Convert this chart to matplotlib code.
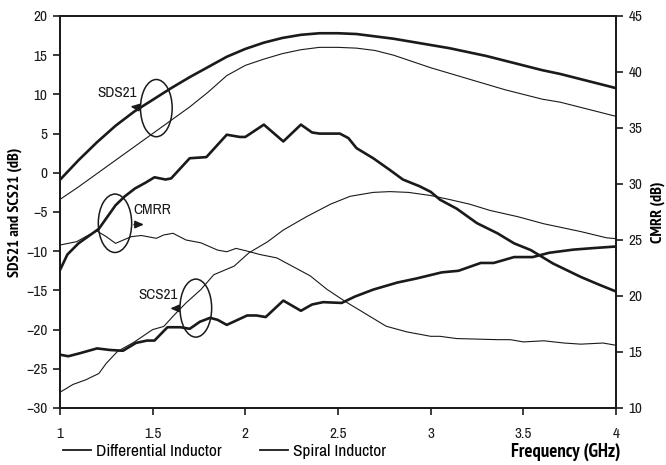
import numpy as np
import matplotlib.pyplot as plt
from matplotlib import font_manager
from matplotlib.font_manager import FontProperties
from matplotlib.patches import Ellipse

# prefer a narrow face for the labels if one is installed
narrow = None
narrow_bold = None
for fe in font_manager.fontManager.ttflist:
    if 'Narrow' in fe.name and fe.style == 'normal':
        w = fe.weight if isinstance(fe.weight, int) else (700 if 'bold' in str(fe.weight) else 400)
        if w >= 600 and narrow_bold is None:
            narrow_bold = fe.fname
        elif w < 600 and narrow is None:
            narrow = fe.name
if narrow:
    plt.rcParams['font.family'] = [narrow, 'DejaVu Sans']
else:
    plt.rcParams['font.family'] = ['DejaVu Sans']
    plt.rcParams['font.stretch'] = 'condensed'


def bold_font(size):
    if narrow_bold:
        return FontProperties(fname=narrow_bold, size=size)
    return FontProperties(family='DejaVu Sans', stretch='condensed', weight='bold', size=size)


# SDS21 (left axis, dB)
f_sds = [1.0, 1.1, 1.2, 1.3, 1.4, 1.5, 1.6, 1.7, 1.8, 1.9, 2.0, 2.1, 2.2, 2.3, 2.4, 2.5,
         2.6, 2.7, 2.8, 2.9, 3.0, 3.1, 3.2, 3.3, 3.4, 3.5, 3.6, 3.7, 3.8, 3.9, 4.0]
sds21_diff = [-0.9, 1.6, 3.9, 6.0, 7.8, 9.3, 10.8, 12.2, 13.5, 14.8, 15.8, 16.6, 17.2, 17.6, 17.8, 17.8,
              17.7, 17.4, 17.1, 16.7, 16.3, 15.9, 15.4, 14.9, 14.3, 13.7, 13.1, 12.6, 12.0, 11.4, 10.8]
sds21_spiral = [-3.4, -1.8, -0.1, 1.6, 3.3, 5.0, 6.7, 8.4, 10.3, 12.4, 13.7, 14.5, 15.2, 15.7, 16.0, 16.0,
                15.9, 15.6, 15.0, 14.2, 13.4, 12.7, 12.0, 11.3, 10.6, 10.0, 9.4, 9.0, 8.4, 7.8, 7.2]

# SCS21 (left axis, dB)
f_scs_diff = [1.0, 1.045, 1.11, 1.2, 1.27, 1.34, 1.41, 1.47, 1.51, 1.58, 1.65, 1.70, 1.755, 1.81,
              1.85, 1.90, 2.01, 2.06, 2.11, 2.205, 2.30, 2.36, 2.42, 2.52, 2.59, 2.69, 2.82, 2.92,
              3.06, 3.15, 3.27, 3.34, 3.45, 3.55, 3.64, 3.77, 3.88, 4.0]
scs21_diff = [-23.2, -23.4, -23.0, -22.4, -22.6, -22.7, -21.7, -21.4, -21.4, -19.7, -19.7, -19.9, -19.0, -18.5,
              -18.75, -19.4, -18.2, -18.2, -18.4, -16.3, -17.6, -16.8, -16.5, -16.6, -15.8, -14.9, -14.0, -13.5,
              -12.7, -12.5, -11.5, -11.5, -10.75, -10.75, -10.2, -9.8, -9.6, -9.4]
f_scs_spiral = [1.0, 1.07, 1.14, 1.21, 1.25, 1.31, 1.40, 1.50, 1.56, 1.61, 1.68, 1.76, 1.83, 1.94,
                2.02, 2.12, 2.205, 2.33, 2.46, 2.565, 2.69, 2.78, 2.88, 3.0, 3.1, 3.21, 3.32, 3.47,
                3.61, 3.81, 3.95, 4.0]
scs21_spiral = [-28.0, -27.0, -26.4, -25.6, -24.3, -22.8, -21.6, -20.0, -19.6, -18.3, -16.6, -14.9, -13.0, -11.9,
                -10.2, -8.8, -7.3, -5.6, -4.0, -3.0, -2.5, -2.4, -2.5, -2.9, -3.4, -4.0, -4.8, -5.6,
                -6.5, -7.5, -8.3, -8.4]

# CMRR (right axis, dB)
f_cmrr_diff = [1.0, 1.04, 1.1, 1.21, 1.30, 1.35, 1.405, 1.46, 1.51, 1.57, 1.60, 1.70, 1.79, 1.90, 1.97,
               2.0, 2.10, 2.205, 2.30, 2.36, 2.40, 2.51, 2.556, 2.60, 2.69, 2.78, 2.85, 2.94, 3.0,
               3.05, 3.14, 3.25, 3.36, 3.45, 3.54, 3.66, 3.81, 3.91, 4.0]
cmrr_diff = [22.3, 23.7, 24.7, 26.0, 28.1, 28.9, 29.6, 30.1, 30.6, 30.4, 30.5, 32.3, 32.4, 34.4, 34.2,
             34.2, 35.3, 33.8, 35.3, 34.6, 34.5, 34.5, 34.1, 33.2, 32.3, 31.25, 30.4, 29.8, 29.3,
             28.6, 27.8, 26.5, 25.6, 24.7, 24.1, 22.9, 21.7, 21.0, 20.4]
f_cmrr_spiral = [1.0, 1.09, 1.15, 1.2, 1.25, 1.30, 1.385, 1.44, 1.52, 1.56, 1.61, 1.68, 1.76, 1.85, 1.90,
                 1.95, 2.0, 2.08, 2.17, 2.26, 2.35, 2.44, 2.54, 2.65, 2.76, 2.87, 3.0, 3.05, 3.14,
                 3.36, 3.43, 3.50, 3.61, 3.72, 3.81, 3.93, 4.0]
cmrr_spiral = [24.55, 24.85, 25.4, 25.8, 25.3, 24.7, 25.3, 25.4, 25.15, 25.45, 25.6, 25.0, 24.75, 24.1, 23.95,
               24.25, 24.05, 23.7, 23.4, 22.6, 21.8, 20.6, 19.5, 18.4, 17.3, 16.8, 16.4, 16.4, 16.2,
               16.1, 16.1, 15.9, 16.0, 15.8, 15.7, 15.8, 15.6]

ink = '#1a1a1a'
thick, thin = 1.9, 0.8

fig = plt.figure(figsize=(6.66, 4.65), dpi=100)
ax = fig.add_axes([0.090, 0.1226, 0.835, 0.843])
ax2 = ax.twinx()

l1, = ax.plot(f_sds, sds21_diff, color=ink, lw=thick)
l2, = ax.plot(f_sds, sds21_spiral, color=ink, lw=thin)
ax.plot(f_scs_diff, scs21_diff, color=ink, lw=thick)
ax.plot(f_scs_spiral, scs21_spiral, color=ink, lw=thin)
ax2.plot(f_cmrr_diff, cmrr_diff, color=ink, lw=thick)
ax2.plot(f_cmrr_spiral, cmrr_spiral, color=ink, lw=thin)

ax.set_xlim(1, 4)
ax.set_ylim(-30, 20)
ax2.set_ylim(10, 45)
ax.set_xticks([1, 1.5, 2, 2.5, 3, 3.5, 4])
ax.set_xticklabels(['1', '1.5', '2', '2.5', '3', '3.5', '4'])
ax.set_yticks(np.arange(-30, 21, 5))
ax2.set_yticks(np.arange(10, 46, 5))

for a in (ax, ax2):
    for s in a.spines.values():
        s.set_linewidth(1.3)
        s.set_color(ink)
ax.tick_params(axis='both', direction='out', length=5, width=1.2, labelsize=11, colors=ink)
ax.tick_params(axis='x', pad=9)
ax.tick_params(axis='y', pad=4)
ax2.tick_params(axis='y', direction='out', length=5, width=1.2, labelsize=11, colors=ink, pad=4)

ax.set_ylabel('SDS21 and SCS21 (dB)', fontproperties=bold_font(11.5), labelpad=3)
ax2.set_ylabel('CMRR (dB)', fontproperties=bold_font(11.5), labelpad=6)
fig.text(0.931, 0.028, 'Frequency (GHz)', fontproperties=bold_font(13.5), ha='right', va='center')

# ellipses marking each curve pair, with arrows pointing to the axis they belong to
ell_kw = dict(fill=False, edgecolor=ink, lw=1.1)
ax.add_patch(Ellipse((1.52, 8.25), 0.171, 7.3, **ell_kw))
ax.add_patch(Ellipse((1.297, -6.44), 0.18, 7.45, **ell_kw))
ax.add_patch(Ellipse((1.733, -17.26), 0.171, 7.4, **ell_kw))

arr = dict(arrowstyle='-|>,head_length=0.5,head_width=0.22', color=ink, lw=1.2)
ax.annotate('', xy=(1.365, 8.5), xytext=(1.435, 8.3), arrowprops=arr)
ax.annotate('', xy=(1.468, -6.6), xytext=(1.385, -6.6), arrowprops=arr)
ax.annotate('', xy=(1.58, -17.3), xytext=(1.648, -17.3), arrowprops=arr)
ax.text(1.306, 10.2, 'SDS21', fontsize=11, ha='center', va='center', color=ink)
ax.text(1.5, -4.7, 'CMRR', fontsize=11, ha='center', va='center', color=ink)
ax.text(1.53, -15.6, 'SCS21', fontsize=11, ha='center', va='center', color=ink)

fig.legend([l1, l2], ['Differential Inductor', 'Spiral Inductor'], loc='center left',
           bbox_to_anchor=(0.0946, 0.030), ncol=2, frameon=False, fontsize=12.5,
           borderpad=0, borderaxespad=0, handlelength=1.6, handletextpad=0.3,
           columnspacing=2.2)
for h in fig.legends[0].legend_handles:
    h.set_linewidth(1.3)

fig.savefig('out.png', dpi=100)
